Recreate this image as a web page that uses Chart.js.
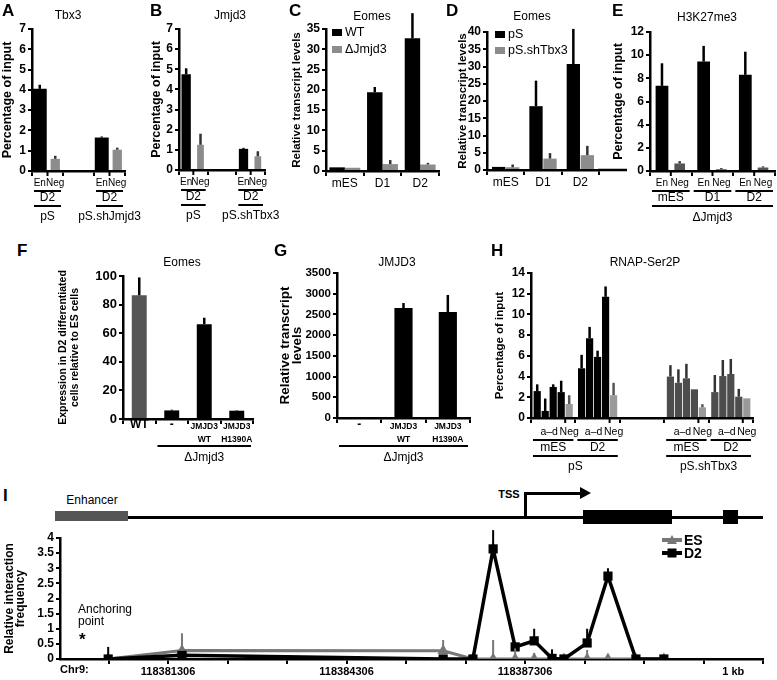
<!DOCTYPE html>
<html><head><meta charset="utf-8">
<script src="https://cdn.jsdelivr.net/npm/chart.js@4.4.1/dist/chart.umd.min.js"></script>
<style>
body{margin:0;background:#fff}
#fig{position:relative;width:777px;height:680px;overflow:hidden;font-family:"Liberation Sans",Arial,sans-serif;color:#000}
canvas{position:absolute}
.lt{position:absolute;font-weight:bold;font-size:17px;line-height:1}
.ti{position:absolute;transform:translate(-50%,-50%);font-size:12px;white-space:nowrap;line-height:1}
.bx{position:absolute;background:#000}
</style></head><body><div id="fig">
<canvas id="cA"></canvas><canvas id="cB"></canvas><canvas id="cC"></canvas><canvas id="cD"></canvas><canvas id="cE"></canvas>
<canvas id="cF"></canvas><canvas id="cG"></canvas><canvas id="cH"></canvas><canvas id="cI"></canvas>

<div class="lt" style="left:2px;top:2px">A</div>
<div class="lt" style="left:150px;top:2px">B</div>
<div class="lt" style="left:289px;top:2px">C</div>
<div class="lt" style="left:446px;top:2px">D</div>
<div class="lt" style="left:612px;top:2px">E</div>
<div class="lt" style="left:17px;top:242px">F</div>
<div class="lt" style="left:274px;top:242px">G</div>
<div class="lt" style="left:491px;top:242px">H</div>
<div class="lt" style="left:3px;top:487px">I</div>

<div class="ti" style="left:68px;top:15px">Tbx3</div>
<div class="ti" style="left:230px;top:15px">Jmjd3</div>
<div class="ti" style="left:372px;top:16px">Eomes</div>
<div class="ti" style="left:532px;top:16px">Eomes</div>
<div class="ti" style="left:707px;top:17px">H3K27me3</div>
<div class="ti" style="left:182px;top:262px">Eomes</div>
<div class="ti" style="left:397px;top:262px">JMJD3</div>
<div class="ti" style="left:645px;top:262px">RNAP-Ser2P</div>

<!-- gene sketch for panel I -->
<div class="bx" style="left:55px;top:516px;width:708px;height:3px"></div>
<div class="bx" style="left:55px;top:511px;width:73px;height:10px;background:#555"></div>
<div class="ti" style="left:92px;top:500px">Enhancer</div>
<div class="bx" style="left:524px;top:492px;width:3px;height:26px"></div>
<div class="bx" style="left:524px;top:492px;width:58px;height:3px"></div>
<div style="position:absolute;left:580px;top:487px;width:0;height:0;border-left:11px solid #000;border-top:6.5px solid transparent;border-bottom:6.5px solid transparent"></div>
<div class="ti" style="left:509px;top:494px;font-weight:bold;font-size:11px">TSS</div>
<div class="bx" style="left:583px;top:510px;width:89px;height:14px"></div>
<div class="bx" style="left:723px;top:510px;width:15px;height:14px"></div>
<div style="position:absolute;left:78px;top:603px;font-size:12px;line-height:12px">Anchoring<br>point</div>
<div style="position:absolute;left:79px;top:631px;font-size:17px;font-weight:bold;line-height:1">*</div>
<div style="position:absolute;left:60px;top:664px;font-size:11px;font-weight:bold;line-height:1">Chr9:</div>
</div>
<script>
// ---------- data ----------
var aRow = ['D2', '', 'D2'], aGroups = ['pS', 'pS.shJmjd3'];
var aEn = [4.05, null, 1.65], aEnErr = [0.2, null, 0.05];
var aNeg = [0.6, null, 1.05], aNegErr = [0.15, null, 0.1];

var bRow = ['D2', '', 'D2'], bGroups = ['pS', 'pS.shTbx3'];
var bEn = [4.75, null, 1.05], bEnErr = [0.3, null, 0.05];
var bNeg = [1.25, null, 0.68], bNegErr = [0.55, null, 0.25];

var cCats = ['mES', 'D1', 'D2'];
var cWT = [0.9, 19.4, 32.7], cWTErr = [0, 1.3, 6.2];
var cKO = [0.8, 1.7, 1.6], cKOErr = [0, 1.0, 0.4];

var dCats = ['mES', 'D1', 'D2'];
var dPS = [0.9, 18.5, 30.7], dPSErr = [0, 7.4, 10.2];
var dSh = [0.8, 3.3, 4.3], dShErr = [0.8, 1.6, 2.7];

var eCats = ['mES', 'D1', 'D2'], eGroup = 'ΔJmjd3';
var eEn = [7.35, 9.45, 8.3], eEnErr = [1.95, 1.35, 2.0];
var eNeg = [0.65, 0.15, 0.3], eNegErr = [0.2, 0.1, 0.1];

var fCats = ['WT', '-', ['JMJD3', 'WT'], ['JMJD3', 'H1390A']], fGroup = 'ΔJmjd3';
var fVals = [86.5, 6, 66.3, 5.8], fErr = [12.5, 0.5, 4.5, 0.3];

var gCats = ['-', ['JMJD3', 'WT'], ['JMJD3', 'H1390A']], gGroup = 'ΔJmjd3';
var gVals = [0, 2655, 2560], gErr = [0, 120, 410];

var hRow = ['mES', 'D2', '', 'mES', 'D2'], hGroups = ['pS', 'pS.shTbx3'];
var hA = [2.6, 4.8, null, 4.0, 2.5], hAErr = [0.65, 1.3, null, 1.1, 1.65];
var hB = [0.68, 7.7, null, 3.4, 4.05], hBErr = [1.2, 1.1, null, 1.3, 1.55];
var hC = [3.0, 5.9, null, 3.83, 4.25], hCErr = [0.25, 0.6, null, 1.4, 1.45];
var hD = [2.5, 11.7, null, 2.77, 2.06], hDErr = [1.1, 1.0, null, 0, 0.75];
var hNeg = [1.35, 2.2, null, 1.03, 1.9], hNegErr = [0.85, 1.2, null, 0.3, 0];

var iPos = [118380300, 118381540, 118385930, 118386430, 118386770, 118387140, 118387460, 118387760, 118387960, 118388350, 118388700, 118389170, 118389640];
var iD2 = [0, 0.12, 0, 0, 3.64, 0.4, 0.6, 0.02, 0, 0.53, 2.74, 0, 0];
var iD2Err = [0.4, 0, 0, 0, 0.62, 0, 0.4, 0.3, 0, 0.47, 0.26, 0, 0];
var iES = [0, 0.28, 0.27, 0, 0, 0, 0, 0, 0, 0, 0, 0, 0];
var iESErr = [0, 0.57, 0.36, 0, 0.63, 0.35, 0.2, 0, 0, 0.3, 0.12, 0, 0];
var iTicks = [118380306, 118381306, 118382306, 118383306, 118384306, 118385306, 118386306, 118387306, 118388306, 118389306, 118390306, 118390806, 118391306];
var iTickLabels = {118381306: '118381306', 118384306: '118384306', 118387306: '118387306', 118390806: '1 kb'};
var iMin = 118379490, iMax = 118391306;

// ---------- helpers ----------
var FF = '"Liberation Sans", Arial, sans-serif';
Chart.defaults.font.family = FF;
Chart.defaults.color = '#000';
var BLACK = '#000', LGREY = '#8c8c8c', DGREY = '#555';

var errorBars = {
    id: 'errorBars',
    afterDatasetsDraw: function(chart){
        var ctx = chart.ctx, y = chart.scales.y;
        chart.data.datasets.forEach(function(ds, i){
            if (!ds.errors) return;
            chart.getDatasetMeta(i).data.forEach(function(el, j){
                var raw = ds.data[j];
                var v = (raw != null && typeof raw === 'object') ? raw.y : raw;
                var e = ds.errors[j];
                if (v == null || !e) return;
                ctx.save();
                ctx.strokeStyle = typeof ds.errColor === 'function' ? ds.errColor(j) : (ds.errColor || '#000');
                ctx.lineWidth = ds.errWidth || 2.5;
                ctx.beginPath();
                ctx.moveTo(el.x, y.getPixelForValue(v));
                ctx.lineTo(el.x, y.getPixelForValue(v + e));
                ctx.stroke();
                ctx.restore();
            });
        });
    }
};

var underAxis = {
    id: 'underAxis',
    afterDraw: function(chart, args, o){
        if (!o.on) return;
        var ctx = chart.ctx, x = chart.scales.x, b = chart.chartArea.bottom;
        var n = chart.data.labels.length, cw = (x.right - x.left) / n;
        var els = function(j, list){ return list.map(function(d){ return chart.getDatasetMeta(d).data[j]; }); };
        var text = function(s, xx, yy, font){ ctx.font = font; ctx.fillText(s, xx, yy); };
        var hline = function(x0, x1, yy, w){ ctx.lineWidth = w || 2; ctx.beginPath(); ctx.moveTo(x0, yy); ctx.lineTo(x1, yy); ctx.stroke(); };
        ctx.save();
        ctx.fillStyle = '#000'; ctx.strokeStyle = '#000';
        ctx.textAlign = 'center'; ctx.textBaseline = 'middle';
        if (o.extend) hline(x.right - 1, x.right + o.extend, b, 2.5);
        for (var j = 0; j < n; j++){
            if (chart.data.datasets[0].data[j] == null) continue;
            var cx = x.getPixelForValue(j);
            if (o.midTick != null){
                var pq = els(j, [o.midTick, o.midTick + 1]);
                var tx = (pq[0].x + pq[1].x) / 2;
                ctx.lineWidth = 2; ctx.beginPath(); ctx.moveTo(tx, b); ctx.lineTo(tx, b + 5); ctx.stroke();
            }
            (o.sub || []).forEach(function(s){
                var es = els(j, s.ds);
                var l = Math.min.apply(null, es.map(function(e){ return e.x - e.width / 2; }));
                var r = Math.max.apply(null, es.map(function(e){ return e.x + e.width / 2; }));
                text(s.text, (l + r) / 2, b + o.subDy, o.subFont);
            });
            if (o.cats){
                var lab = o.cats[j];
                if (Array.isArray(lab)){
                    text(lab[0], cx, b + o.catDy2[0], o.catSmall);
                    text(lab[1], cx, b + o.catDy2[1], o.catSmall);
                } else if (lab){
                    if (o.catLine != null) hline(cx - cw / 2 + 2, cx + cw / 2 - 2, b + o.catLine);
                    text(lab, cx, b + o.catDy, o.catFont);
                }
            }
        }
        (o.groups || []).forEach(function(g){
            var l = x.getPixelForValue(g.from) - cw / 2 + 2, r = x.getPixelForValue(g.to) + cw / 2 - 2;
            hline(l, r, b + o.groupLine);
            text(g.text, (l + r) / 2, b + o.groupDy, o.groupFont);
        });
        ctx.restore();
    }
};

var boxLegend = {
    id: 'boxLegend',
    afterDraw: function(chart, args, o){
        if (!o.on) return;
        var ctx = chart.ctx, a = chart.chartArea;
        ctx.save();
        chart.data.datasets.forEach(function(ds, i){
            var x0 = a.left + o.dx, y0 = a.top + o.dy + i * o.step;
            ctx.fillStyle = ds.backgroundColor;
            ctx.fillRect(x0, y0, 10, 7);
            ctx.fillStyle = '#000'; ctx.font = o.font;
            ctx.textAlign = 'left'; ctx.textBaseline = 'middle';
            ctx.fillText(ds.label, x0 + 13, y0 + 4);
        });
        ctx.restore();
    }
};

var lineLegend = {
    id: 'lineLegend',
    afterDraw: function(chart, args, o){
        if (!o.on) return;
        var ctx = chart.ctx, a = chart.chartArea;
        ctx.save();
        o.order.forEach(function(i, k){
            var ds = chart.data.datasets[i];
            var x0 = a.left + o.dx, y0 = a.top + o.dy + k * o.step, xm = x0 + 10;
            ctx.strokeStyle = ds.borderColor; ctx.fillStyle = ds.borderColor; ctx.lineWidth = 4;
            ctx.beginPath(); ctx.moveTo(x0, y0); ctx.lineTo(x0 + 20, y0); ctx.stroke();
            ctx.beginPath();
            if (ds.pointStyle === 'triangle'){ ctx.moveTo(xm, y0 - 5); ctx.lineTo(xm + 5, y0 + 4); ctx.lineTo(xm - 5, y0 + 4); ctx.closePath(); ctx.fill(); }
            else ctx.fillRect(xm - 4.5, y0 - 4.5, 9, 9);
            ctx.fillStyle = '#000'; ctx.font = o.font; ctx.textAlign = 'left'; ctx.textBaseline = 'middle';
            ctx.fillText(ds.label, x0 + 22, y0 + 1);
        });
        ctx.restore();
    }
};

function panel(id, box, plot, cfg){
    var cv = document.getElementById(id);
    cv.width = box.w; cv.height = box.h;
    cv.style.left = box.x + 'px'; cv.style.top = box.y + 'px';
    var yW = plot.l - box.x, xH = box.y + box.h - plot.b;
    var tf = cfg.titleFont;
    var titlePad = cfg.titleX - box.x - tf.size * tf.lh / 2;
    var x = cfg.x || {
        grid: {drawOnChartArea: false, tickLength: 5, color: '#000', lineWidth: 2},
        border: {color: '#000', width: 2.5},
        ticks: {display: false}
    };
    x.afterFit = function(s){ s.height = xH; };
    return new Chart(cv, {
        type: cfg.type || 'bar',
        data: {labels: cfg.labels, datasets: cfg.datasets},
        plugins: [errorBars, underAxis, boxLegend, lineLegend],
        options: {
            responsive: false, animation: false, events: [],
            layout: {autoPadding: false, padding: {left: 0, top: plot.t - box.y, right: box.x + box.w - plot.r, bottom: 0}},
            scales: {
                x: x,
                y: {
                    min: 0, max: cfg.yMax,
                    ticks: {stepSize: cfg.yStep, padding: 2, color: '#000', autoSkip: false,
                            font: {size: cfg.tickSize || 12, weight: 'bold'},
                            callback: function(v){ return String(v); }},
                    grid: {drawOnChartArea: false, tickLength: 4, color: '#000', lineWidth: 2},
                    border: {color: '#000', width: 2.5},
                    title: {display: true, text: cfg.yTitle, color: '#000', font: {size: tf.size, weight: 'bold', lineHeight: tf.lh}, padding: {top: titlePad, bottom: 0}},
                    afterFit: function(s){ s.width = yW; }
                }
            },
            plugins: {
                legend: {display: false}, tooltip: {enabled: false},
                underAxis: cfg.under || {}, boxLegend: cfg.legend || {}, lineLegend: cfg.lineLegend || {}
            }
        }
    });
}

function bars(label, data, errors, color, errColor, bp, cp){
    return {label: label, data: data, errors: errors, backgroundColor: color, errColor: errColor,
            barPercentage: bp, categoryPercentage: cp, borderWidth: 0};
}

var f12 = '12px ' + FF, f10 = '10px ' + FF;
function enNegUnder(row, groups, idx){
    return {on: true, midTick: 0,
        sub: [{text: 'En', ds: [0]}, {text: 'Neg', ds: [1]}], subDy: 12, subFont: f10,
        cats: row, catDy: 27, catLine: 20, catFont: f12,
        groups: groups.map(function(t, k){ return {text: t, from: idx[k][0], to: idx[k][1]}; }),
        groupDy: 46, groupLine: 35, groupFont: f12};
}

// ---------- A ----------
panel('cA', {x: 0, y: 0, w: 145, h: 230}, {l: 32, t: 29, r: 125, b: 171}, {
    labels: aRow, yMax: 7, yStep: 1, yTitle: 'Percentage of input', titleX: 8, titleFont: {size: 12.5, lh: 1.2},
    datasets: [bars('En', aEn, aEnErr, BLACK, '#000', 0.9, 1), bars('Neg', aNeg, aNegErr, LGREY, '#333', 0.6, 1)],
    under: enNegUnder(aRow, aGroups, [[0, 0], [2, 2]])
});
// ---------- B ----------
panel('cB', {x: 148, y: 0, w: 140, h: 230}, {l: 179, t: 29, r: 265, b: 170}, {
    labels: bRow, yMax: 7, yStep: 1, yTitle: 'Percentage of input', titleX: 157, titleFont: {size: 12.5, lh: 1.2},
    datasets: [bars('En', bEn, bEnErr, BLACK, '#000', 0.65, 1), bars('Neg', bNeg, bNegErr, LGREY, '#333', 0.47, 1)],
    under: enNegUnder(bRow, bGroups, [[0, 0], [2, 2]])
});
// ---------- C ----------
panel('cC', {x: 288, y: 0, w: 160, h: 230}, {l: 326, t: 29, r: 439, b: 171}, {
    labels: cCats, yMax: 35, yStep: 5, yTitle: 'Relative transcript levels', titleX: 297, titleFont: {size: 11.5, lh: 1.2},
    datasets: [bars('WT', cWT, cWTErr, BLACK, '#000', 1, 0.82), bars('ΔJmjd3', cKO, cKOErr, LGREY, '#333', 1, 0.82)],
    under: {on: true, cats: cCats, catDy: 13, catFont: f12},
    legend: {on: true, dx: 6, dy: 0, step: 17, font: '12.5px ' + FF}
});
// ---------- D ----------
panel('cD', {x: 455, y: 0, w: 180, h: 230}, {l: 487, t: 32, r: 599, b: 170}, {
    labels: dCats, yMax: 40, yStep: 5, yTitle: 'Relative transcript levels', titleX: 463, titleFont: {size: 11.5, lh: 1.2},
    datasets: [bars('pS', dPS, dPSErr, BLACK, '#000', 0.95, 0.75), bars('pS.shTbx3', dSh, dShErr, LGREY, '#333', 0.95, 0.75)],
    under: {on: true, cats: dCats, catDy: 13, catFont: f12, extend: 28},
    legend: {on: true, dx: 8, dy: -1, step: 16, font: '12.5px ' + FF}
});
// ---------- E ----------
panel('cE', {x: 610, y: 0, w: 167, h: 230}, {l: 650, t: 32, r: 775, b: 171}, {
    labels: eCats, yMax: 12, yStep: 2, yTitle: 'Percentage of input', titleX: 619, titleFont: {size: 12.5, lh: 1.2},
    datasets: [bars('En', eEn, eEnErr, BLACK, '#000', 0.72, 0.85), bars('Neg', eNeg, eNegErr, DGREY, '#333', 0.6, 0.85)],
    under: {on: true, midTick: 0,
        sub: [{text: 'En', ds: [0]}, {text: 'Neg', ds: [1]}], subDy: 12, subFont: f10,
        cats: eCats, catDy: 27, catLine: 20, catFont: f12,
        groups: [{text: eGroup, from: 0, to: 2}], groupDy: 47, groupLine: 35, groupFont: f12}
});
// ---------- F ----------
panel('cF', {x: 55, y: 230, w: 210, h: 240}, {l: 123, t: 276, r: 253, b: 419}, {
    labels: fCats, yMax: 100, yStep: 20, tickSize: 13,
    yTitle: ['Expression in D2 differentiated', 'cells relative to ES cells'], titleX: 63, titleFont: {size: 10.5, lh: 1.14},
    datasets: [{label: 'Eomes', data: fVals, errors: fErr, errColor: '#000', borderWidth: 0,
        backgroundColor: [DGREY, BLACK, BLACK, BLACK], barPercentage: 0.46, categoryPercentage: 1}],
    under: {on: true, cats: fCats, catDy: 6, catFont: 'bold 12px ' + FF, catDy2: [8, 21], catSmall: 'bold 8.5px ' + FF,
        groups: [{text: fGroup, from: 1, to: 3}], groupDy: 39, groupLine: 27, groupFont: f12}
});
// ---------- G ----------
panel('cG', {x: 276, y: 230, w: 200, h: 240}, {l: 337, t: 273, r: 470, b: 418}, {
    labels: gCats, yMax: 3500, yStep: 500, tickSize: 11.5,
    yTitle: ['Relative transcript', 'levels'], titleX: 285, titleFont: {size: 13.5, lh: 0.9},
    datasets: [{label: 'JMJD3', data: gVals, errors: gErr, errColor: '#000', borderWidth: 0,
        backgroundColor: BLACK, barPercentage: 0.41, categoryPercentage: 1}],
    under: {on: true, cats: gCats, catDy: 7, catFont: 'bold 12px ' + FF, catDy2: [9, 22], catSmall: 'bold 8.5px ' + FF,
        groups: [{text: gGroup, from: 0, to: 2}], groupDy: 40, groupLine: 28, groupFont: f12}
});
// ---------- H ----------
var hColor = function(c){ return c.dataIndex < 2 ? BLACK : '#4d4d4d'; };
var hErr = function(j){ return j < 2 ? '#000' : '#333'; };
panel('cH', {x: 490, y: 230, w: 287, h: 250}, {l: 531, t: 273, r: 753, b: 418}, {
    labels: hRow, yMax: 14, yStep: 2, yTitle: 'Percentage of input', titleX: 500, titleFont: {size: 11.5, lh: 1.2},
    datasets: [bars('a', hA, hAErr, hColor, hErr, 0.9, 0.9), bars('b', hB, hBErr, hColor, hErr, 0.9, 0.9),
               bars('c', hC, hCErr, hColor, hErr, 0.9, 0.9), bars('d', hD, hDErr, hColor, hErr, 0.9, 0.9),
               bars('Neg', hNeg, hNegErr, '#9a9a9a', '#555', 0.9, 0.9)],
    under: {on: true, midTick: 3,
        sub: [{text: 'a–d', ds: [0, 1, 2, 3]}, {text: 'Neg', ds: [4]}], subDy: 14, subFont: '10.5px ' + FF,
        cats: hRow, catDy: 30, catLine: 22, catFont: f12,
        groups: [{text: hGroups[0], from: 0, to: 1}, {text: hGroups[1], from: 3, to: 4}], groupDy: 49, groupLine: 38, groupFont: f12}
});
// ---------- I ----------
panel('cI', {x: 0, y: 525, w: 777, h: 155}, {l: 60, t: 538, r: 763, b: 659}, {
    type: 'line', yMax: 4, yStep: 0.5, tickSize: 12,
    yTitle: ['Relative interaction', 'frequency'], titleX: 10, titleFont: {size: 12, lh: 0.85},
    datasets: [
        {label: 'D2', data: iPos.map(function(p, k){ return {x: p, y: iD2[k]}; }), errors: iD2Err, errColor: '#000', errWidth: 2,
         borderColor: '#000', backgroundColor: '#000', borderWidth: 3.5, pointStyle: 'rect', pointRadius: 6.5, pointBorderWidth: 0, tension: 0},
        {label: 'ES', data: iPos.map(function(p, k){ return {x: p, y: iES[k]}; }), errors: iESErr, errColor: '#777', errWidth: 2,
         borderColor: '#777', backgroundColor: '#777', borderWidth: 3, pointStyle: 'triangle', pointRadius: 6.5, pointBorderWidth: 0, tension: 0}
    ],
    x: {
        type: 'linear', min: iMin, max: iMax,
        afterBuildTicks: function(s){ s.ticks = iTicks.map(function(v){ return {value: v}; }); },
        ticks: {autoSkip: false, maxRotation: 0, padding: 1, color: '#000', font: {size: 11, weight: 'bold'},
                callback: function(v){ return iTickLabels[v] || ''; }},
        grid: {drawOnChartArea: false, tickLength: 5, lineWidth: 2,
               color: function(c){ return (c.tick && iTickLabels[c.tick.value] === '1 kb') ? 'rgba(0,0,0,0)' : '#000'; }},
        border: {color: '#000', width: 2.5}
    },
    lineLegend: {on: true, order: [1, 0], dx: 602, dy: 2, step: 13, font: 'bold 14px ' + FF}
});
</script>
</body></html>
